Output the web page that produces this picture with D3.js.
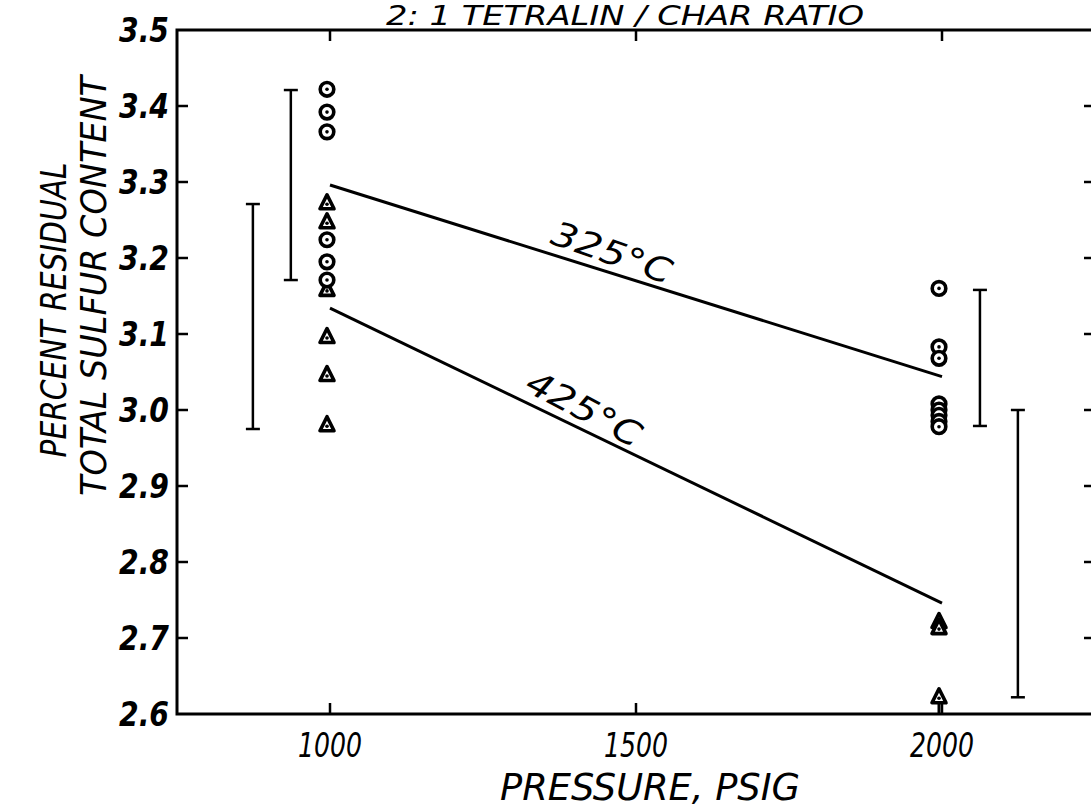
<!DOCTYPE html>
<html>
<head>
<meta charset="utf-8">
<script src="https://cdn.jsdelivr.net/npm/d3@7"></script>
<style>
  body { margin: 0; background: #fff; }
  svg text { font-family: "DejaVu Sans Condensed", "DejaVu Sans", sans-serif; font-style: italic; fill: #000; }
</style>
</head>
<body>
<svg id="chart" width="1091" height="810"></svg>
<script>
// values
const pressureTicks = [1000, 1500, 2000];
const sulfurTicks = [2.6, 2.7, 2.8, 2.9, 3.0, 3.1, 3.2, 3.3, 3.4, 3.5];

const circles1000 = [3.422, 3.392, 3.366, 3.224, 3.195, 3.171];
const triangles1000 = [3.272, 3.247, 3.158, 3.096, 3.046, 2.980];
const circles2000 = [3.160, 3.083, 3.068, 3.008, 3.000, 2.993, 2.985, 2.978];
const triangles2000 = [2.721, 2.713, 2.622];

const fitPressures = [1000, 2000];
const fit325 = [3.296, 3.044];
const fit425 = [3.134, 2.746];

const barPressures = [874, 936, 2062, 2124];
const barLow = [2.975, 3.171, 2.979, 2.622];
const barHigh = [3.271, 3.421, 3.158, 3.000];

const svg = d3.select("#chart");

const x = d3.scaleLinear().domain([750, 2250]).range([177, 1095]);
const y = d3.scaleLinear().domain([2.6, 3.5]).range([714, 30]);

// frame
svg.append("rect")
    .attr("x", x(750)).attr("y", y(3.5))
    .attr("width", x(2250) - x(750)).attr("height", y(2.6) - y(3.5))
    .attr("fill", "none").attr("stroke", "#000").attr("stroke-width", 3);

// inward ticks on all sides
const tickLen = 11;
svg.append("g").selectAll("line.tb")
    .data(pressureTicks.flatMap(p => [[p, y(3.5), tickLen], [p, y(2.6), -tickLen]]))
    .join("line")
    .attr("x1", d => x(d[0])).attr("x2", d => x(d[0]))
    .attr("y1", d => d[1]).attr("y2", d => d[1] + d[2])
    .attr("stroke", "#000").attr("stroke-width", 2.5);

svg.append("g").selectAll("line.lr")
    .data(sulfurTicks.slice(1, -1).flatMap(v => [[v, x(750), tickLen], [v, x(2250), -tickLen]]))
    .join("line")
    .attr("x1", d => d[1]).attr("x2", d => d[1] + d[2])
    .attr("y1", d => y(d[0])).attr("y2", d => y(d[0]))
    .attr("stroke", "#000").attr("stroke-width", 2.5);

// tick labels
svg.append("g").selectAll("text")
    .data(sulfurTicks)
    .join("text")
    .attr("x", 169).attr("y", d => y(d) + 12)
    .attr("text-anchor", "end")
    .attr("font-size", 33).attr("font-weight", "bold")
    .attr("textLength", 50).attr("lengthAdjust", "spacingAndGlyphs")
    .text(d => d.toFixed(1));

svg.append("g").selectAll("text")
    .data(pressureTicks)
    .join("text")
    .attr("x", d => x(d)).attr("y", 757)
    .attr("text-anchor", "middle")
    .attr("font-size", 34)
    .attr("textLength", 64).attr("lengthAdjust", "spacingAndGlyphs")
    .text(d => d);

// axis titles
svg.append("text")
    .attr("x", 650).attr("y", 800)
    .attr("text-anchor", "middle")
    .attr("font-size", 37)
    .attr("textLength", 300).attr("lengthAdjust", "spacingAndGlyphs")
    .text("PRESSURE, PSIG");

svg.append("text")
    .attr("transform", "translate(66,310) rotate(-90)")
    .attr("text-anchor", "middle")
    .attr("font-size", 36)
    .attr("textLength", 295).attr("lengthAdjust", "spacingAndGlyphs")
    .text("PERCENT RESIDUAL");

svg.append("text")
    .attr("transform", "translate(106,286) rotate(-90)")
    .attr("text-anchor", "middle")
    .attr("font-size", 36)
    .attr("textLength", 420).attr("lengthAdjust", "spacingAndGlyphs")
    .text("TOTAL SULFUR CONTENT");

svg.append("text")
    .attr("x", 625).attr("y", 25)
    .attr("text-anchor", "middle")
    .attr("font-size", 27)
    .attr("textLength", 478).attr("lengthAdjust", "spacingAndGlyphs")
    .text("2: 1 TETRALIN / CHAR RATIO");

// fitted lines
const line = d3.line().x(d => x(d[0])).y(d => y(d[1]));
[fit325, fit425].forEach(fit => {
    svg.append("path")
        .attr("d", line(fitPressures.map((p, i) => [p, fit[i]])))
        .attr("fill", "none").attr("stroke", "#000").attr("stroke-width", 3);
});

// line labels, rotated along each line
function lineLabel(fit, txt, t, off) {
    const x0 = x(fitPressures[0]), y0 = y(fit[0]);
    const x1 = x(fitPressures[1]), y1 = y(fit[1]);
    const ang = Math.atan2(y1 - y0, x1 - x0) * 180 / Math.PI;
    const px = x0 + (x1 - x0) * t, py = y0 + (y1 - y0) * t;
    svg.append("text")
        .attr("transform", `translate(${px},${py}) rotate(${ang + 2}) translate(0,${off})`)
        .attr("text-anchor", "middle")
        .attr("font-size", 34)
        .attr("textLength", 125).attr("lengthAdjust", "spacingAndGlyphs")
        .text(txt);
}
lineLabel(fit325, "325°C", 0.45, -8);
lineLabel(fit425, "425°C", 0.40, -8);

// error bars
const cap = 7;
const bars = svg.append("g").attr("stroke", "#000").attr("stroke-width", 2.5);
barPressures.forEach((p, i) => {
    const bx = x(p);
    bars.append("line").attr("x1", bx).attr("x2", bx).attr("y1", y(barLow[i])).attr("y2", y(barHigh[i]));
    bars.append("line").attr("x1", bx - cap).attr("x2", bx + cap).attr("y1", y(barLow[i])).attr("y2", y(barLow[i]));
    bars.append("line").attr("x1", bx - cap).attr("x2", bx + cap).attr("y1", y(barHigh[i])).attr("y2", y(barHigh[i]));
});

// markers
function drawCircles(p, vals) {
    const g = svg.append("g");
    vals.forEach(v => {
        g.append("circle").attr("cx", x(p) - 3).attr("cy", y(v)).attr("r", 6.8)
            .attr("fill", "#fff").attr("stroke", "#000").attr("stroke-width", 3.6);
        g.append("circle").attr("cx", x(p) - 3).attr("cy", y(v)).attr("r", 1.8).attr("fill", "#000");
    });
}
function drawTriangles(p, vals) {
    const g = svg.append("g");
    vals.forEach(v => {
        const cx = x(p) - 3, cy = y(v);
        g.append("path")
            .attr("d", `M${cx},${cy - 8.5} L${cx + 7},${cy + 5.5} L${cx - 7},${cy + 5.5} Z`)
            .attr("fill", "#fff").attr("stroke", "#000").attr("stroke-width", 3.6)
            .attr("stroke-linejoin", "round");
        g.append("circle").attr("cx", cx).attr("cy", cy + 1).attr("r", 1.8).attr("fill", "#000");
    });
}
drawTriangles(1000, triangles1000);
drawCircles(1000, circles1000);
drawCircles(2000, circles2000);
drawTriangles(2000, triangles2000);

// stem under the lowest triangle at 2000 psig
const lowest = d3.min(triangles2000);
svg.append("line")
    .attr("x1", x(2000) - 3).attr("x2", x(2000) - 3)
    .attr("y1", y(lowest) + 5).attr("y2", y(2.6))
    .attr("stroke", "#000").attr("stroke-width", 3);
</script>
</body>
</html>
